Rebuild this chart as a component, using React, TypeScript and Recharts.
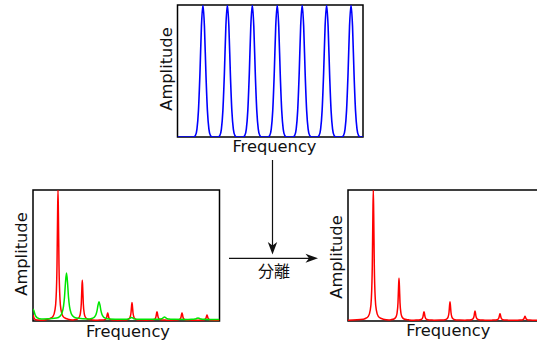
import React from 'react';
import { LineChart, Line, XAxis, YAxis, ReferenceArea } from 'recharts';

// ---------- data (frequency in box units, amplitude 0..1) ----------
const axisTitleX = 'Frequency';
const axisTitleY = 'Amplitude';
const arrowLabel = '分離';

// comb filter (top)
const combSpan = 186;
const combCenters = [25.5, 50, 75, 100, 125, 149.5, 174];
const combHeights = [1, 1, 1, 1, 1, 1, 1];
const combProfile: [number, number][] = [
  [-9.5, 0], [-7.5, 0.012], [-6, 0.06], [-4.5, 0.2], [-3, 0.48], [-1.5, 0.84], [0, 1],
  [1.5, 0.84], [3, 0.48], [4.5, 0.2], [6, 0.06], [7.5, 0.012], [9.5, 0],
];
const combBase = 0;

// mixture (bottom left)
const mixSpan = 186.5;
const mixRedCenters = [0, 25, 49.3, 74.7, 99, 124, 149, 174];
const mixRedHeights = [0.04, 0.994, 0.305, 0.055, 0.135, 0.065, 0.055, 0.04];
const mixGreenCenters = [0, 33.5, 66, 98.5, 131.5, 165];
const mixGreenHeights = [0.08, 0.355, 0.135, 0.015, 0.018, 0.011];

// separated (bottom right)
const sepSpan = 198;
const sepRedCenters = [25.3, 51, 76, 102, 127, 152, 177];
const sepRedHeights = [0.994, 0.32, 0.065, 0.14, 0.07, 0.05, 0.03];

// peak shapes (offset, relative amplitude)
const redProfile: [number, number][] = [
  [-10, 0.008], [-8, 0.013], [-5, 0.03], [-3, 0.08], [-2, 0.16], [-1, 0.42], [-0.4, 0.82], [0, 1],
  [0.4, 0.82], [1, 0.42], [2, 0.16], [3, 0.08], [5, 0.03], [8, 0.013], [10, 0.008],
];
const greenProfile: [number, number][] = [
  [-10, 0.03], [-6.5, 0.07], [-4.5, 0.14], [-3, 0.28], [-2, 0.48], [-1, 0.8], [0, 1],
  [1, 0.8], [2, 0.48], [3, 0.28], [4.5, 0.14], [6.5, 0.07], [10, 0.03],
];
const redBase = 0.006;
const greenBase = 0.012;

type Pt = { f: number; a: number };
function buildSpectrum(centers: number[], heights: number[], profile: [number, number][], base: number, span: number): Pt[] {
  const pts: Pt[] = [];
  centers.forEach((c, i) => {
    profile.forEach(([d, r]) => {
      const f = c + d;
      if (f >= 0 && f <= span) pts.push({ f, a: base + heights[i] * r });
    });
  });
  pts.sort((p, q) => p.f - q.f);
  if (pts[0].f > 0) pts.unshift({ f: 0, a: base });
  if (pts[pts.length - 1].f < span) pts.push({ f: span, a: base });
  return pts;
}

const combData = buildSpectrum(combCenters, combHeights, combProfile, combBase, combSpan);
const mixRedData = buildSpectrum(mixRedCenters, mixRedHeights, redProfile, redBase, mixSpan);
const mixGreenData = buildSpectrum(mixGreenCenters, mixGreenHeights, greenProfile, greenBase, mixSpan);
const sepRedData = buildSpectrum(sepRedCenters, sepRedHeights, redProfile, redBase, sepSpan);

// ---------- styling ----------
const FONT = '"DejaVu Sans", sans-serif';
const TEXT = '#111';
const TITLE_SIZE = 16.3;

const xTitle = (dx: number, dy: number) => (props: any) => {
  const vb = props.viewBox || {};
  return (
    <text x={vb.x + vb.width / 2 + dx} y={vb.y + dy} textAnchor="middle" fontFamily={FONT} fontSize={TITLE_SIZE} fill={TEXT}>
      {axisTitleX}
    </text>
  );
};
const yTitle = (dx: number, dy: number) => (props: any) => {
  const vb = props.viewBox || {};
  const x = vb.x + vb.width + dx;
  const y = vb.y + vb.height / 2 + dy;
  return (
    <text x={x} y={y} transform={`rotate(-90 ${x} ${y})`} textAnchor="middle" fontFamily={FONT} fontSize={TITLE_SIZE} fill={TEXT}>
      {axisTitleY}
    </text>
  );
};

type Series = { data: Pt[]; color: string; width: number };
function Panel(props: {
  left: number; top: number; w: number; h: number;
  margin: { top: number; right: number; bottom: number; left: number };
  span: number; series: Series[];
  xdx: number; xdy: number; ydx: number; ydy: number;
}) {
  const { left, top, w, h, margin, span, series } = props;
  return (
    <div style={{ position: 'absolute', left, top, width: w, height: h }}>
      <LineChart width={w} height={h} margin={margin}>
        <XAxis
          dataKey="f" type="number" domain={[0, span]} allowDataOverflow
          height={20} tick={false} axisLine={false} tickLine={false}
          label={xTitle(props.xdx, props.xdy)}
        />
        <YAxis
          type="number" domain={[0, 1]} allowDataOverflow
          width={20} tick={false} axisLine={false} tickLine={false}
          label={yTitle(props.ydx, props.ydy)}
        />
        {series.map((s, i) => (
          <Line
            key={i} data={s.data} dataKey="a" type="monotone" stroke={s.color} strokeWidth={s.width}
            dot={false} activeDot={false} isAnimationActive={false}
          />
        ))}
        <ReferenceArea x1={0} x2={span} y1={0} y2={1} fill="none" stroke="#000" strokeWidth={1.5} ifOverflow="visible" />
      </LineChart>
    </div>
  );
}

export default function App() {
  return (
    <div style={{ position: 'absolute', left: 0, top: 0, width: 537, height: 340, overflow: 'hidden', background: '#fff' }}>
      <Panel
        left={140} top={0} w={240} h={165}
        margin={{ top: 5, right: 17, bottom: 8, left: 17.5 }}
        span={combSpan}
        series={[{ data: combData, color: '#0000ff', width: 1.6 }]}
        xdx={4.2} xdy={15} ydx={-6} ydy={-2}
      />
      <Panel
        left={0} top={180} w={235} h={165}
        margin={{ top: 10, right: 15.5, bottom: 4, left: 13 }}
        span={mixSpan}
        series={[
          { data: mixRedData, color: '#ff0000', width: 1.5 },
          { data: mixGreenData, color: '#00e600', width: 1.5 },
        ]}
        xdx={1.7} xdy={15.5} ydx={-6} ydy={-1.5}
      />
      <Panel
        left={320} top={180} w={240} h={165}
        margin={{ top: 10, right: 14, bottom: 4, left: 8 }}
        span={sepSpan}
        series={[{ data: sepRedData, color: '#ff0000', width: 1.5 }]}
        xdx={1.3} xdy={15} ydx={-6} ydy={1.5}
      />
      <svg width={537} height={340} style={{ position: 'absolute', left: 0, top: 0, pointerEvents: 'none' }}>
        <line x1={272.5} y1={160} x2={272.5} y2={247} stroke="#111" strokeWidth={1.2} />
        <polygon points="272.5,254.5 267.8,242 272.5,245.5 277.2,242" fill="#111" />
        <line x1={229} y1={258.3} x2={311} y2={258.3} stroke="#111" strokeWidth={1.2} />
        <polygon points="318,258.3 305.5,253.8 309,258.3 305.5,262.8" fill="#111" />
        <text x={274} y={277} textAnchor="middle" fontFamily='"Noto Sans CJK JP", sans-serif' fontSize={16} fill={TEXT}>
          {arrowLabel}
        </text>
      </svg>
    </div>
  );
}
